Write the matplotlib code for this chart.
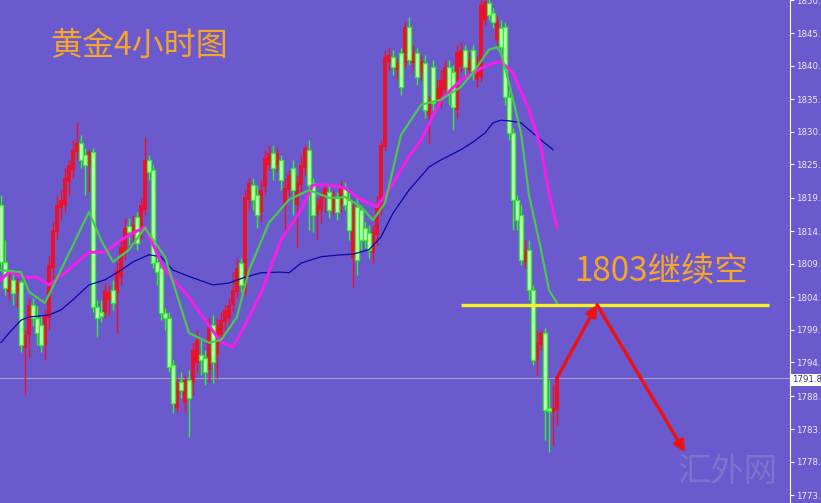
import matplotlib.pyplot as plt
import numpy as np

# 4H gold candles, index = bar number
opens = [1818.8, 1809.9, 1805.2, 1807.1, 1805.0, 1806.8, 1796.5, 1798.5, 1803.2, 1801.2,
         1800.0, 1796.9, 1801.2, 1808.9, 1814.6, 1818.3, 1818.8, 1822.4, 1824.2, 1827.0,
         1828.4, 1826.6, 1825.0, 1827.0, 1802.9, 1802.1, 1801.9, 1804.0, 1805.5, 1805.0,
         1807.5, 1811.3, 1815.5, 1814.1, 1816.9, 1814.9, 1818.0, 1825.8, 1824.2, 1809.9,
         1808.9, 1801.9, 1801.2, 1793.8, 1787.1, 1791.2, 1787.9, 1791.5, 1791.0, 1794.1,
         1795.4, 1794.9, 1793.0, 1800.0, 1795.4, 1798.5, 1800.5, 1801.2, 1803.2, 1805.2,
         1809.7, 1805.5, 1819.6, 1821.9, 1820.3, 1817.7, 1821.6, 1825.0, 1826.9, 1825.0,
         1825.8, 1818.8, 1821.1, 1824.5, 1818.8, 1821.9, 1824.5, 1827.4, 1822.2, 1817.2,
         1818.0, 1819.9, 1820.8, 1818.0, 1819.9, 1818.8, 1821.4, 1819.6, 1810.5, 1818.5,
         1818.0, 1815.2, 1814.4, 1811.3, 1814.1, 1818.0, 1827.8, 1841.1, 1841.9, 1839.8,
         1842.5, 1840.9, 1846.5, 1840.9, 1842.5, 1839.4, 1840.9, 1832.8, 1840.3, 1834.7,
         1835.2, 1836.7, 1840.3, 1839.5, 1833.6, 1840.3, 1843.0, 1839.8, 1843.0, 1838.3,
         1838.7, 1847.6, 1850.3, 1848.7, 1844.5, 1846.4, 1846.5, 1835.6, 1830.0, 1819.6,
         1817.2, 1809.9, 1811.8, 1805.5, 1794.6, 1796.9, 1798.8, 1787.1, 1786.5, 1786.8]
closes = [1809.9, 1805.8, 1807.1, 1805.0, 1806.8, 1796.9, 1798.5, 1803.2, 1801.2, 1798.8,
          1796.9, 1801.6, 1809.4, 1814.9, 1818.8, 1819.6, 1823.0, 1825.0, 1827.4, 1828.4,
          1825.8, 1825.0, 1827.0, 1802.9, 1801.2, 1801.5, 1805.5, 1805.2, 1803.5, 1808.6,
          1812.2, 1815.2, 1814.6, 1815.7, 1812.8, 1818.8, 1825.8, 1823.9, 1809.7, 1808.3,
          1801.9, 1801.2, 1793.5, 1787.9, 1791.0, 1789.9, 1791.5, 1788.7, 1796.2, 1797.7,
          1794.6, 1792.7, 1799.7, 1794.3, 1800.0, 1800.8, 1802.4, 1803.2, 1805.5, 1808.9,
          1806.3, 1820.0, 1822.2, 1819.6, 1817.2, 1821.1, 1826.1, 1826.9, 1824.5, 1826.9,
          1822.7, 1821.4, 1823.4, 1821.1, 1822.4, 1825.0, 1827.7, 1821.9, 1817.2, 1818.8,
          1819.9, 1821.4, 1818.0, 1820.3, 1817.7, 1821.4, 1818.8, 1814.9, 1818.5, 1810.2,
          1813.3, 1813.3, 1811.8, 1814.6, 1818.3, 1828.1, 1841.9, 1842.2, 1840.3, 1840.9,
          1837.2, 1846.5, 1841.4, 1842.5, 1838.7, 1841.1, 1833.6, 1835.2, 1834.7, 1837.0,
          1838.3, 1840.3, 1836.2, 1834.1, 1842.6, 1843.0, 1840.3, 1841.4, 1839.4, 1840.9,
          1850.0, 1850.4, 1848.4, 1847.3, 1847.3, 1843.4, 1835.6, 1830.0, 1819.6, 1816.4,
          1810.2, 1811.8, 1805.5, 1794.6, 1797.3, 1798.8, 1786.8, 1786.6, 1787.1, 1791.8]
highs = [1820.3, 1813.3, 1808.3, 1808.0, 1807.4, 1807.1, 1799.3, 1804.3, 1804.3, 1803.0,
         1801.6, 1802.4, 1811.0, 1816.1, 1820.3, 1821.1, 1824.5, 1825.8, 1828.9, 1831.7,
         1829.7, 1827.7, 1827.4, 1827.7, 1804.0, 1804.0, 1806.6, 1806.3, 1807.1, 1809.9,
         1813.3, 1816.7, 1816.7, 1817.2, 1817.7, 1819.9, 1829.4, 1826.6, 1825.0, 1811.0,
         1809.9, 1802.7, 1802.1, 1794.6, 1791.8, 1792.7, 1792.2, 1793.0, 1797.4, 1799.3,
         1797.7, 1796.2, 1801.2, 1801.6, 1801.2, 1802.1, 1803.2, 1804.3, 1808.3, 1810.5,
         1810.5, 1821.1, 1823.0, 1823.0, 1821.9, 1822.7, 1827.4, 1828.1, 1828.1, 1827.7,
         1826.6, 1823.0, 1824.2, 1825.8, 1823.4, 1826.6, 1828.1, 1828.9, 1823.0, 1819.9,
         1820.8, 1821.9, 1821.9, 1821.1, 1820.8, 1822.7, 1822.4, 1821.1, 1819.6, 1820.3,
         1818.8, 1816.1, 1815.7, 1815.7, 1820.3, 1828.9, 1843.0, 1843.3, 1843.0, 1841.7,
         1843.3, 1847.3, 1848.1, 1843.7, 1843.3, 1842.2, 1842.2, 1835.9, 1841.4, 1838.3,
         1839.8, 1841.4, 1841.4, 1840.6, 1843.7, 1844.2, 1843.7, 1842.6, 1843.7, 1842.2,
         1851.2, 1851.2, 1851.1, 1849.5, 1848.4, 1847.6, 1847.3, 1836.7, 1830.8, 1820.3,
         1818.8, 1813.3, 1813.3, 1806.3, 1799.3, 1799.3, 1799.6, 1791.5, 1790.7, 1792.2]
lows = [1808.9, 1804.7, 1804.0, 1803.2, 1802.7, 1795.8, 1789.1, 1794.9, 1799.9, 1796.9,
        1795.8, 1794.6, 1799.3, 1806.3, 1813.3, 1816.4, 1817.7, 1820.3, 1823.0, 1825.8,
        1824.5, 1820.3, 1820.8, 1802.1, 1798.2, 1800.5, 1801.2, 1801.6, 1802.4, 1798.8,
        1806.3, 1810.2, 1812.5, 1812.5, 1811.8, 1813.3, 1817.2, 1822.7, 1808.9, 1806.3,
        1800.8, 1799.3, 1792.7, 1786.3, 1786.5, 1788.7, 1786.5, 1782.6, 1789.1, 1792.7,
        1792.2, 1790.7, 1791.2, 1791.0, 1791.8, 1797.4, 1799.3, 1800.0, 1802.1, 1804.3,
        1805.2, 1804.7, 1818.0, 1818.0, 1815.2, 1816.1, 1820.3, 1824.2, 1822.7, 1823.9,
        1821.1, 1814.9, 1820.3, 1817.2, 1812.1, 1820.8, 1823.4, 1814.9, 1814.6, 1813.3,
        1816.0, 1817.7, 1816.7, 1817.2, 1816.4, 1817.7, 1818.0, 1813.3, 1806.0, 1807.8,
        1811.8, 1812.1, 1810.5, 1809.7, 1812.5, 1817.2, 1827.4, 1839.8, 1839.0, 1838.3,
        1835.9, 1840.1, 1840.6, 1839.8, 1837.5, 1838.3, 1832.3, 1828.4, 1833.6, 1833.6,
        1833.9, 1835.9, 1834.4, 1830.5, 1832.3, 1839.5, 1839.0, 1838.6, 1838.3, 1837.2,
        1838.0, 1846.8, 1847.6, 1846.4, 1843.7, 1842.2, 1834.4, 1828.9, 1814.9, 1814.9,
        1809.4, 1808.9, 1804.0, 1793.8, 1792.2, 1796.2, 1782.1, 1780.2, 1781.3, 1784.4]

# moving averages, read at some bars
ma_fast_x = [0, 5, 7, 11, 22, 25, 28, 32, 36, 41, 47, 52, 55, 59, 62, 67, 72, 77, 82, 86,
             90, 93, 96, 100, 105, 110, 115, 118, 122, 124, 125, 127, 130, 132, 135, 137, 139]
ma_fast = [1808.6, 1808.3, 1805.2, 1803.5, 1817.7, 1813.3, 1809.9, 1811.8, 1815.2, 1810.7,
           1798.8, 1797.3, 1797.7, 1801.3, 1808.6, 1816.0, 1819.6, 1821.1, 1819.9, 1820.0,
           1818.5, 1816.4, 1819.1, 1829.7, 1834.4, 1835.2, 1837.2, 1839.4, 1843.0, 1843.4,
           1842.5, 1837.8, 1830.0, 1820.3, 1811.8, 1805.5, 1803.5]
ma_mid_x = [0, 2, 6, 9, 12, 16, 22, 26, 30, 33, 36, 41, 47, 51, 55, 58, 61, 65, 70, 75,
            78, 82, 86, 90, 94, 97, 102, 105, 110, 115, 120, 123, 125, 128, 132, 135, 137, 139]
ma_mid = [1807.1, 1808.3, 1807.5, 1807.5, 1806.3, 1808.2, 1811.4, 1811.4, 1813.3, 1814.4,
          1815.3, 1808.6, 1804.4, 1800.8, 1797.4, 1796.6, 1800.0, 1805.0, 1813.3, 1818.0,
          1821.9, 1821.9, 1821.4, 1819.6, 1818.5, 1821.1, 1826.3, 1828.9, 1835.2, 1838.3,
          1840.1, 1840.9, 1841.1, 1839.4, 1833.6, 1827.8, 1820.6, 1815.3]
ma_slow_x = [0, 2, 5, 7, 12, 15, 18, 22, 26, 30, 33, 37, 40, 43, 48, 53, 57, 61, 65, 70,
             72, 75, 80, 85, 88, 92, 95, 98, 102, 107, 110, 115, 118, 121, 123, 125, 127, 130,
             132, 136, 138]
ma_slow = [1797.3, 1798.8, 1800.8, 1801.3, 1801.6, 1802.4, 1804.0, 1806.3, 1807.1, 1808.6,
           1809.9, 1811.0, 1810.7, 1808.6, 1807.4, 1806.3, 1806.6, 1807.5, 1808.2, 1808.3,
           1808.2, 1809.7, 1810.7, 1811.0, 1811.1, 1811.8, 1813.8, 1817.5, 1821.1, 1824.7,
           1825.8, 1827.4, 1828.6, 1830.0, 1831.6, 1832.0, 1831.9, 1831.6, 1830.5, 1828.4,
           1827.4]

yticks = [1850.7, 1845.6, 1840.5, 1835.3, 1830.2, 1825.1, 1819.9, 1814.7, 1809.6, 1804.4,
          1799.3, 1794.2, 1788.9, 1783.8, 1778.7, 1773.5]
last_price = 1791.8
resistance = 1803.2
res_x = [115, 192]
arrow_x = [139, 149, 171]
arrow_y = [1791.8, 1803.2, 1780.2]

bg = '#6a5acd'
fig = plt.figure(figsize=(8.21, 5.03), dpi=100, facecolor=bg)
ax = fig.add_axes([0, 0, 790 / 821, 1])
ax.set_facecolor(bg)

x = np.arange(len(opens))
o = np.array(opens)
c = np.array(closes)
up = c >= o
bottom = np.minimum(o, c)
height = np.maximum(np.abs(c - o), 0.2)

red = '#ec1028'
lime = '#30f030'
ax.vlines(x[up], np.array(lows)[up], np.array(highs)[up], color=red, lw=1, zorder=2)
ax.vlines(x[~up], np.array(lows)[~up], np.array(highs)[~up], color=lime, lw=1, zorder=2)
ax.bar(x[up], height[up], bottom=bottom[up], width=0.8, color=red, lw=0, zorder=3)
ax.bar(x[~up], height[~up], bottom=bottom[~up], width=0.8, facecolor='#c8ffc0',
       edgecolor=lime, lw=1.0, zorder=3)

ax.plot(ma_slow_x, ma_slow, color='#0808a8', lw=0.9, zorder=4)
ax.plot(ma_mid_x, ma_mid, color='#f020e8', lw=2.2, zorder=4)
ax.plot(ma_fast_x, ma_fast, color='#48c850', lw=1.6, zorder=5)

ax.axhline(last_price, color='#a8a0c8', lw=0.8, zorder=1)
ax.hlines(resistance, res_x[0], res_x[1], color='#f8f020', lw=2.4, zorder=6)

for i in range(2):
    ax.annotate('', xy=(arrow_x[i + 1], arrow_y[i + 1]), xytext=(arrow_x[i], arrow_y[i]),
                arrowprops=dict(arrowstyle='-|>', color='#f01010', lw=2.4,
                                mutation_scale=16, shrinkA=0, shrinkB=0), zorder=7)

ax.set_xlim(-0.25, 197.25)
ax.set_ylim(1772.28, 1850.75)
ax.set_xticks([])
ax.yaxis.tick_right()
ax.set_yticks(yticks)
ax.set_yticklabels(['%.1f' % v for v in yticks])
ax.tick_params(axis='y', colors='white', length=3, width=0.8, pad=1.5, labelsize=6.2,
               labelcolor='#ececf4')
for s in ['top', 'left', 'bottom']:
    ax.spines[s].set_visible(False)
ax.spines['right'].set_color('white')
ax.spines['right'].set_linewidth(0.8)

cjk = ['Noto Sans CJK SC', 'DejaVu Sans']
fig.text(50 / 821, 1 - 46 / 503, '黄金4小时图', family=cjk, fontsize=23,
         color='#f5a62a', va='center', ha='left')
fig.text(574 / 821, 1 - 272 / 503, '1803继续空', family=cjk, fontsize=24,
         color='#f5a62a', va='center', ha='left')
fig.text(728 / 821, 1 - 472 / 503, '汇外网', family=cjk, fontsize=24,
         color='#8e88cc', va='center', ha='center', alpha=0.55)
fig.text(792 / 821, 1 - 380 / 503, '%.1f' % last_price, fontsize=6.2, color='#303070',
         va='center', ha='left',
         bbox=dict(boxstyle='square,pad=0.15', facecolor='white', edgecolor='none'))

fig.savefig('out.png', dpi=100, facecolor=bg)
